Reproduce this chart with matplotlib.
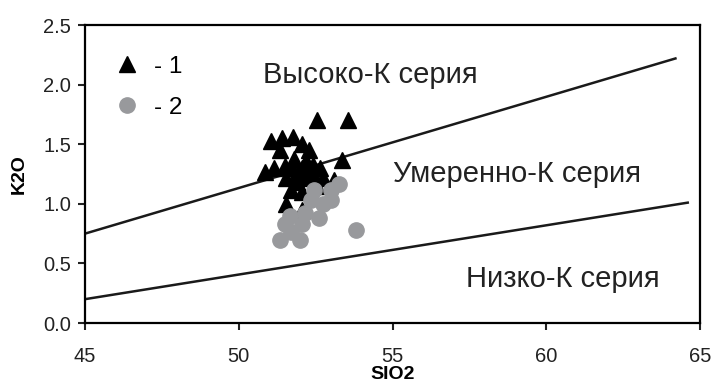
import numpy as np
import matplotlib.pyplot as plt

plt.rcParams['font.family'] = ['Liberation Sans', 'DejaVu Sans']

# boundary lines (SiO2, K2O)
high_x = [45, 64.2]
high_y = [0.75, 2.22]
low_x = [45, 64.6]
low_y = [0.20, 1.01]

# group 1 (triangles)
tri_x = [52.55, 53.55, 51.05, 51.4, 51.75, 52.05, 52.3, 52.65, 53.35,
         50.85, 51.15, 51.5, 51.8, 52.05, 52.4, 52.75, 53.1,
         51.55, 51.9, 52.15, 52.55, 51.7, 52.05, 52.3, 51.55, 52.05,
         51.9, 52.2, 51.7, 52.4, 51.35]
tri_y = [1.70, 1.70, 1.53, 1.55, 1.56, 1.50, 1.45, 1.30, 1.37,
         1.27, 1.30, 1.32, 1.38, 1.30, 1.25, 1.22, 1.20,
         1.22, 1.18, 1.22, 1.15, 1.12, 1.10, 1.30, 1.00, 0.95,
         1.26, 1.36, 1.30, 1.33, 1.45]

# group 2 (circles)
cir_x = [51.35, 51.7, 52.0, 51.5, 52.05, 51.65, 52.6, 52.75, 53.0,
         52.45, 53.0, 53.25, 53.8, 52.15, 52.35]
cir_y = [0.70, 0.76, 0.70, 0.83, 0.83, 0.90, 0.88, 1.00, 1.03,
         1.12, 1.12, 1.17, 0.78, 0.92, 1.03]

fig = plt.figure(figsize=(7.12, 3.92), dpi=100)
ax = fig.add_axes([0.1194, 0.176, 0.8638, 0.760])

ax.plot(high_x, high_y, color='#1a1a1a', lw=1.8)
ax.plot(low_x, low_y, color='#1a1a1a', lw=1.8)

ax.plot(tri_x, tri_y, '^', color='black', ms=12, ls='none', label='- 1')
ax.plot(cir_x, cir_y, 'o', color='#98999c', ms=11, ls='none', label='- 2')

ax.text(50.79, 2.01, 'Высоко-К серия', fontsize=21, va='baseline', color='#222222')
ax.text(55.02, 1.18, 'Умеренно-К серия', fontsize=21, va='baseline', color='#222222')
ax.text(57.39, 0.30, 'Низко-К серия', fontsize=21, va='baseline', color='#222222')

ax.set_xlim(45, 65)
ax.set_ylim(0, 2.5)
ax.set_xticks([45, 50, 55, 60, 65])
ax.set_yticks([0, 0.5, 1.0, 1.5, 2.0, 2.5])
ax.set_yticklabels(['0.0', '0.5', '1.0', '1.5', '2.0', '2.5'])
ax.tick_params(direction='out', length=5, width=1.5, labelsize=14.5,
               colors='#222222', pad=5)
ax.tick_params(axis='x', pad=12)
for s in ax.spines.values():
    s.set_linewidth(1.6)

ax.set_xlabel('SIO2', fontsize=14, fontweight='bold', labelpad=0)
ax.set_ylabel('K2O', fontsize=14, fontweight='bold', labelpad=11)

ax.legend(loc='upper left', bbox_to_anchor=(0.029, 0.93), frameon=False,
          fontsize=17.5, handletextpad=0.5, labelspacing=0.78, borderaxespad=0,
          handlelength=1.2)

fig.savefig('out.png', dpi=100)
